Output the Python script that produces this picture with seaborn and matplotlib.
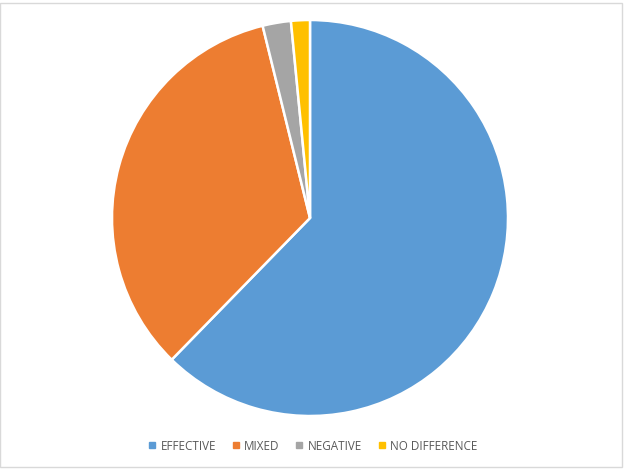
import matplotlib
matplotlib.use("Agg")
import matplotlib.pyplot as plt
from matplotlib.lines import Line2D
from matplotlib.patches import Rectangle
import seaborn as sns

categories = ["EFFECTIVE", "MIXED", "NEGATIVE", "NO DIFFERENCE"]
counts = [81, 44, 3, 2]
colors = ["#5B9BD5", "#ED7D31", "#A5A5A5", "#FFC000"]

sns.set_theme(style="white")
plt.rcParams["font.family"] = ["Open Sans", "DejaVu Sans"]

fig = plt.figure(figsize=(6.3, 4.69), dpi=100)
ax = fig.add_axes([112 / 630, (469 - 416) / 469, 396 / 630, 396 / 469])
ax.pie(counts, colors=colors, startangle=90, counterclock=False,
       wedgeprops=dict(edgecolor="white", linewidth=1.8))
ax.set_xlim(-1, 1)
ax.set_ylim(-1, 1)
ax.set_aspect("equal")

# light chart-area border
fig.patches.append(Rectangle((0.0, 2 / 469), 622 / 630, 464 / 469, transform=fig.transFigure,
                             fill=False, edgecolor="#D9D9D9", linewidth=1))

handles = [Line2D([], [], marker="s", linestyle="", markersize=4.5,
                  markerfacecolor=c, markeredgecolor=c) for c in colors]
fig.legend(handles, categories, loc="center", bbox_to_anchor=(313 / 630, 1 - 446 / 469),
           ncol=4, frameon=False, fontsize=8.4, labelcolor="#595959",
           handlelength=0.6, handletextpad=0.4, columnspacing=1.4)

fig.savefig("out.png", dpi=100)
